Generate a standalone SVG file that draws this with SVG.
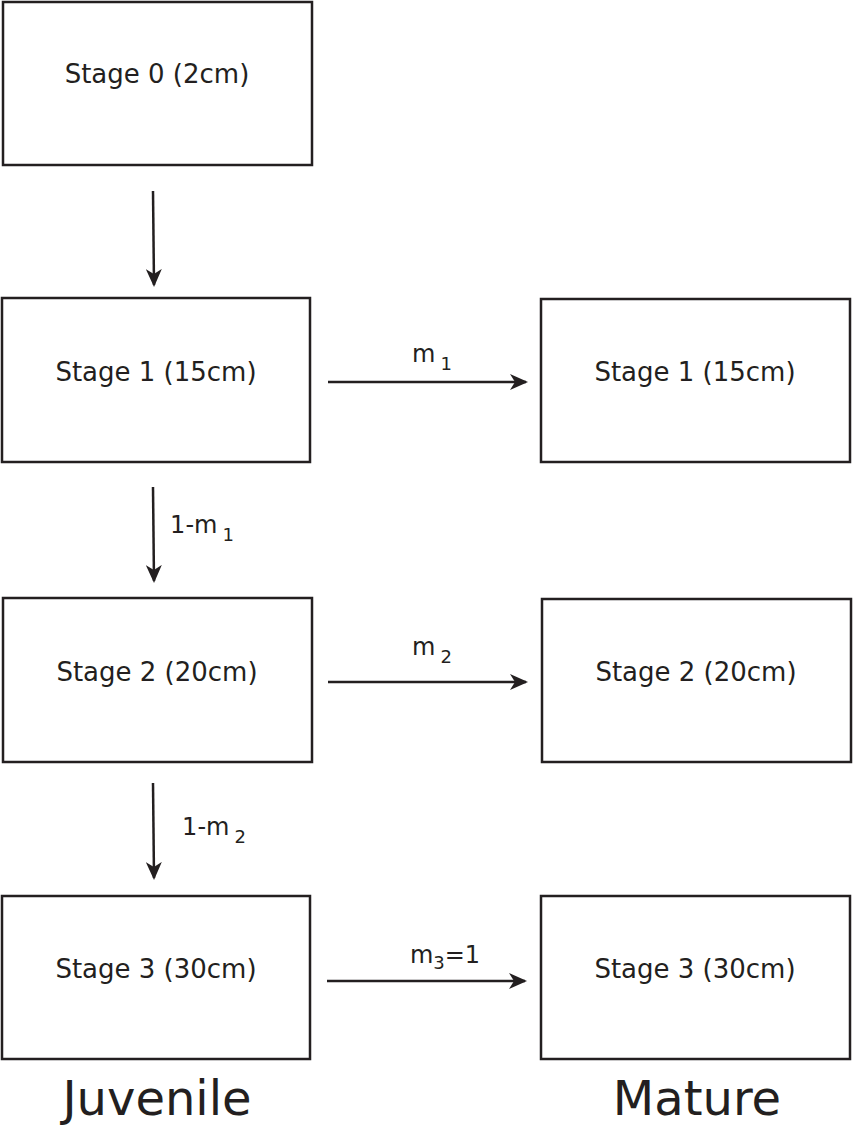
<svg xmlns="http://www.w3.org/2000/svg" width="853" height="1127" viewBox="0 0 853 1127">
<style>
.box{fill:#fff;stroke:#231f20;stroke-width:2.5}
.t{font-family:"DejaVu Sans",sans-serif;font-size:24px;fill:#231f20;text-anchor:middle}
.n{font-size:26px}
.s{font-size:18px}
.big{font-family:"DejaVu Sans",sans-serif;font-size:48px;fill:#231f20;text-anchor:middle}
.c{stroke:#231f20;stroke-width:2.5;fill:none;marker-end:url(#a)}
</style>
<defs><marker id="a" markerWidth="18" markerHeight="16" refX="16" refY="8" orient="auto" markerUnits="userSpaceOnUse" viewBox="0 0 18 16"><path d="M0,0 L18,8 L0,16 L5,8 Z" fill="#231f20"/></marker></defs>
<rect width="853" height="1127" fill="#fff"/>
<g id="j0"><rect class="box" x="3" y="2" width="309" height="163"/><text class="t n" x="157" y="83">Stage 0 (2cm)</text></g>
<g id="j1"><rect class="box" x="2" y="298" width="308" height="164"/><text class="t n" x="156" y="381">Stage 1 (15cm)</text></g>
<g id="m1"><rect class="box" x="541" y="299" width="309" height="163"/><text class="t n" x="695" y="381">Stage 1 (15cm)</text></g>
<g id="j2"><rect class="box" x="3" y="598" width="309" height="164"/><text class="t n" x="157" y="681">Stage 2 (20cm)</text></g>
<g id="m2"><rect class="box" x="542" y="599" width="309" height="163"/><text class="t n" x="696" y="681">Stage 2 (20cm)</text></g>
<g id="j3"><rect class="box" x="2" y="896" width="308" height="163"/><text class="t n" x="156" y="978">Stage 3 (30cm)</text></g>
<g id="m3"><rect class="box" x="541" y="896" width="309" height="163"/><text class="t n" x="695" y="978">Stage 3 (30cm)</text></g>
<g id="connectors">
<path class="c" d="M153,191 L154,285"/>
<path class="c" d="M153,487 L154,581"/>
<path class="c" d="M153,783 L154,878"/>
<path class="c" d="M328,382 L526,382"/>
<path class="c" d="M328,682 L526,682"/>
<path class="c" d="M327,981 L525,981"/>
<text class="t" x="432" y="362">m<tspan class="s" dx="5" dy="8">1</tspan></text>
<text class="t" x="432" y="655">m<tspan class="s" dx="5" dy="8">2</tspan></text>
<text class="t" x="445" y="963">m<tspan class="s" dy="6">3</tspan><tspan dy="-6">=1</tspan></text>
<text class="t" x="202" y="533">1-m<tspan class="s" dx="5" dy="8">1</tspan></text>
<text class="t" x="214" y="835">1-m<tspan class="s" dx="5" dy="8">2</tspan></text>
</g>
<text class="big" x="157" y="1115">Juvenile</text>
<text class="big" x="697" y="1115">Mature</text>
</svg>
